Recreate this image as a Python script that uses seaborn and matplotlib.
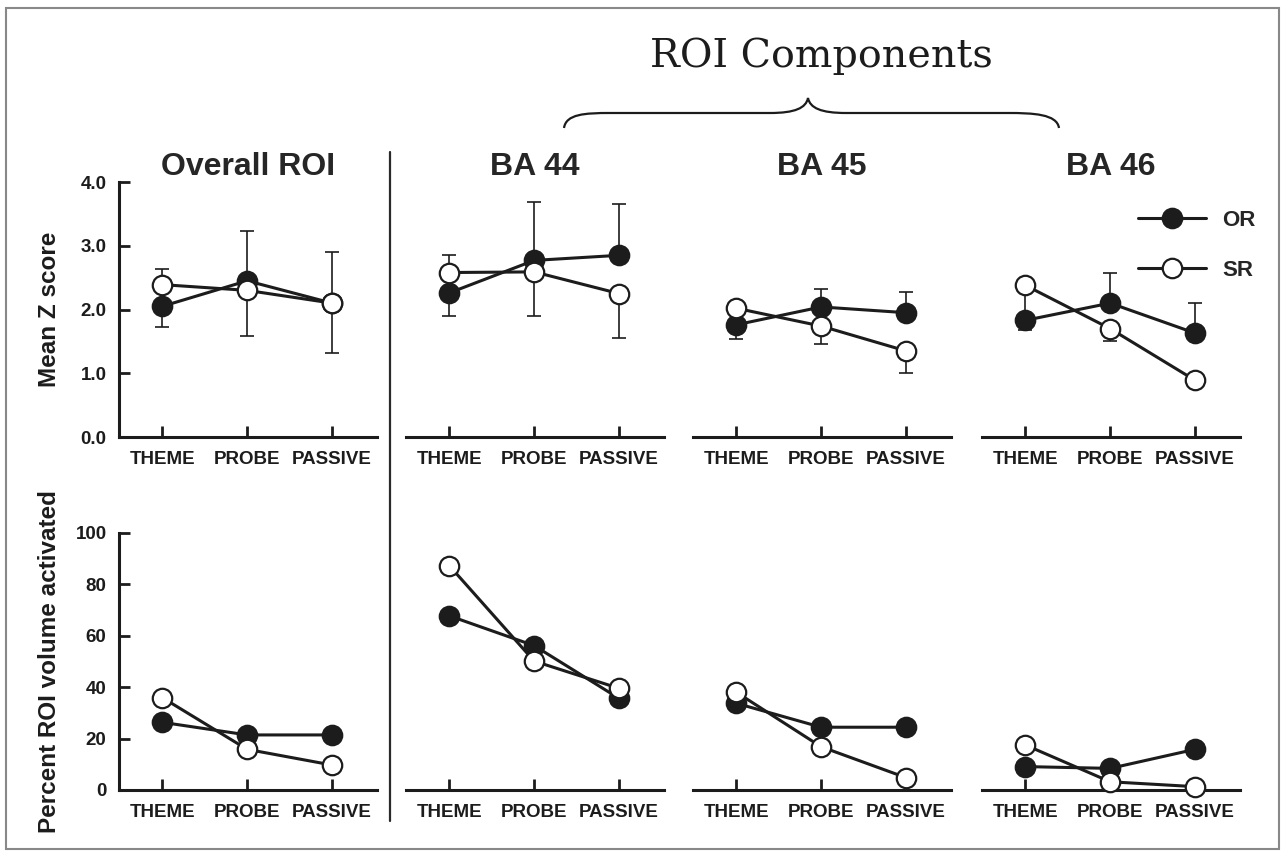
# -*- coding: utf-8 -*-
import numpy as np
import pandas as pd
import matplotlib.pyplot as plt
import seaborn as sns
from matplotlib.lines import Line2D
from matplotlib.patches import Rectangle, PathPatch
from matplotlib.path import Path

# %% data
regions = ['Overall ROI', 'BA 44', 'BA 45', 'BA 46']
conds = ['THEME', 'PROBE', 'PASSIVE']

# mean Z score, rows = regions, cols = conditions
z_or = [[2.05, 2.45, 2.10], [2.26, 2.77, 2.85], [1.76, 2.04, 1.95], [1.83, 2.10, 1.63]]
z_sr = [[2.39, 2.30, 2.10], [2.58, 2.59, 2.25], [2.02, 1.74, 1.35], [2.38, 1.70, 0.89]]
# one-sided error bars (lower, upper)
z_or_lo = [[0.33, 0.00, 0.00], [0.36, 0.00, 0.00], [0.22, 0.00, 0.00], [0.15, 0.00, 0.00]]
z_or_hi = [[0.00, 0.78, 0.80], [0.00, 0.91, 0.80], [0.00, 0.28, 0.32], [0.00, 0.47, 0.47]]
z_sr_lo = [[0.00, 0.71, 0.78], [0.00, 0.69, 0.69], [0.00, 0.28, 0.34], [0.48, 0.19, 0.00]]
z_sr_hi = [[0.24, 0.00, 0.00], [0.27, 0.00, 0.00], [0.00, 0.00, 0.00], [0.00, 0.00, 0.00]]

# percent ROI volume activated
pct_or = [[26.3, 21.4, 21.4], [67.7, 56.1, 35.6], [33.7, 24.4, 24.4], [9.1, 8.4, 15.8]]
pct_sr = [[35.9, 15.8, 9.7], [87.2, 50.1, 39.5], [38.0, 16.8, 4.8], [17.5, 3.2, 1.3]]

rows = []
for i, reg in enumerate(regions):
    for j, c in enumerate(conds):
        rows.append(dict(region=reg, pos=j, cond=c, group='OR', z=z_or[i][j], pct=pct_or[i][j],
                         lo=z_or_lo[i][j], hi=z_or_hi[i][j]))
        rows.append(dict(region=reg, pos=j, cond=c, group='SR', z=z_sr[i][j], pct=pct_sr[i][j],
                         lo=z_sr_lo[i][j], hi=z_sr_hi[i][j]))
df = pd.DataFrame(rows)

# %% style
sns.set_style('ticks')
plt.rcParams['font.family'] = ['Liberation Sans', 'DejaVu Sans']
plt.rcParams['font.weight'] = 'bold'
ink = '#1c1c1c'
W, H = 1282, 852

fig = plt.figure(figsize=(12.82, 8.52), dpi=100)


def px_axes(left, top, width, height):
    return fig.add_axes([left / W, 1 - (top + height) / H, width / W, height / H])


lefts = [119, 406, 693, 982]
face = {'OR': ink, 'SR': 'white'}

for row, (yvar, top, height) in enumerate([('z', 182, 255), ('pct', 532.7, 257.3)]):
    for i, reg in enumerate(regions):
        ax = px_axes(lefts[i], top, 258, height)
        sub = df[df['region'] == reg]
        if yvar == 'z':
            for g in ['OR', 'SR']:
                d = sub[sub['group'] == g]
                ax.errorbar(d['pos'], d['z'], yerr=[d['lo'], d['hi']], fmt='none',
                            ecolor=ink, elinewidth=1.2, capsize=5, capthick=1.2, zorder=2)
        for k, g in enumerate(['OR', 'SR']):
            sns.lineplot(data=sub[sub['group'] == g], x='pos', y=yvar, ax=ax, color=ink,
                         linewidth=2.2, marker='o', markersize=14, markerfacecolor=face[g],
                         markeredgecolor=ink, markeredgewidth=1.6, clip_on=False,
                         zorder=3 + k, legend=False)
        ax.set_xlim(-0.51, 2.53)
        ax.set_xticks(range(3))
        ax.set_xticklabels(conds)
        ax.set_xlabel('')
        ax.set_ylabel('')
        if yvar == 'z':
            ax.set_ylim(0, 4)
            ax.set_yticks([0, 1, 2, 3, 4])
            ax.set_yticklabels(['0.0', '1.0', '2.0', '3.0', '4.0'])
            ax.set_title(reg, fontsize=23, fontweight='bold', pad=4)
        else:
            ax.set_ylim(0, 100)
            ax.set_yticks([0, 20, 40, 60, 80, 100])
        ax.tick_params(direction='in', length=8, width=2, labelsize=13.5, colors=ink)
        ax.tick_params(axis='x', pad=10)
        ax.tick_params(axis='y', pad=9)
        for s in ['top', 'right']:
            ax.spines[s].set_visible(False)
        for s in ['left', 'bottom']:
            ax.spines[s].set_linewidth(2.2)
            ax.spines[s].set_color(ink)
        if i == 0:
            ax.set_ylabel('Mean Z score' if yvar == 'z' else 'Percent ROI volume activated',
                          fontsize=17.5, fontweight='bold', color=ink)
            ax.yaxis.set_label_coords(-0.225, 0.5)
        else:
            ax.spines['left'].set_visible(False)
            ax.tick_params(axis='y', left=False, labelleft=False)
        if yvar == 'z' and i == 3:
            handles = [Line2D([], [], color=ink, lw=2.2, marker='o', ms=14, mfc=face[g],
                              mec=ink, mew=1.6) for g in ['OR', 'SR']]
            ax.legend(handles, ['OR', 'SR'], loc='upper left', bbox_to_anchor=(0.605, 0.89),
                      frameon=False, handlelength=3.05, handletextpad=0.75, labelspacing=1.3,
                      borderpad=0, borderaxespad=0, numpoints=1,
                      prop={'size': 16, 'weight': 'bold'})

# %% annotations
fig.text(821 / W, 1 - 67 / H, 'ROI Components', family='DejaVu Serif', fontweight='normal',
         fontsize=28.5, ha='center', va='baseline', color=ink)

brace_pts = [(564, 128), (566, 114), (585, 113), (610, 113), (770, 113),
             (795, 113), (806, 108), (808, 98), (810, 108), (821, 113), (846, 113),
             (1008, 113), (1033, 113), (1057, 114), (1059, 128)]
codes = [Path.MOVETO, Path.CURVE4, Path.CURVE4, Path.CURVE4, Path.LINETO,
         Path.CURVE4, Path.CURVE4, Path.CURVE4, Path.CURVE4, Path.CURVE4, Path.CURVE4,
         Path.LINETO, Path.CURVE4, Path.CURVE4, Path.CURVE4]
brace = Path([(x / W, 1 - y / H) for x, y in brace_pts], codes)
fig.add_artist(PathPatch(brace, transform=fig.transFigure, fill=False, lw=1.6, edgecolor=ink))

fig.add_artist(Line2D([390 / W, 390 / W], [1 - 152 / H, 1 - 821 / H], transform=fig.transFigure,
                      color='#2a2a2a', lw=1.6))
fig.add_artist(Rectangle((6 / W, 1 - 849 / H), 1273 / W, 841 / H, transform=fig.transFigure,
                         fill=False, edgecolor='#888888', lw=1.5))

plt.savefig('out.png', dpi=100)
